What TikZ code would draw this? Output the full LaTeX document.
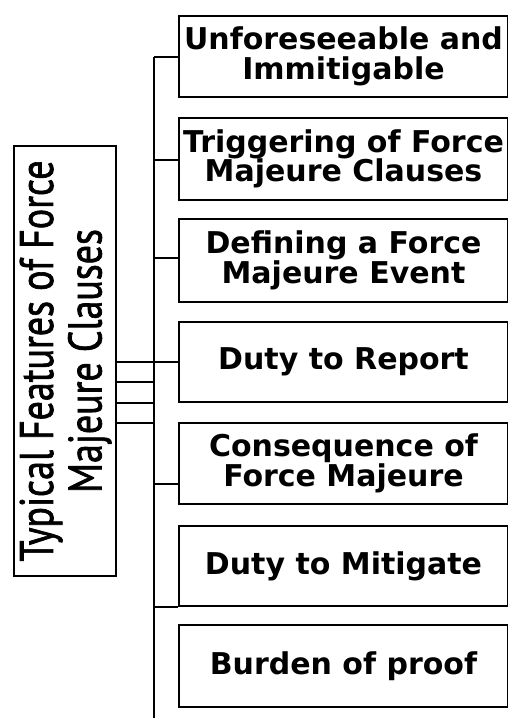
\documentclass[tikz,border=0pt]{standalone}
\usepackage{graphicx}
\usepackage{fontspec}
\newfontfamily\boxfont{DejaVu Sans}
\newfontfamily\titlefont[FakeBold=1.6]{PT Sans}
\newlength\titlewidth
\begin{document}
\begin{tikzpicture}[x=1pt,y=-1pt,
  line width=2pt,
  itembox/.style={draw, line width=2pt, minimum width=329pt, minimum height=81pt,
    inner sep=0pt, align=center,
    font={\boxfont\bfseries\fontsize{30}{29.5}\selectfont}},
  link/.style={line width=2pt}]
\useasboundingbox (0,0) rectangle (507,718);
% main box
\node[draw, line width=2pt, minimum width=102pt, minimum height=430pt, inner sep=0pt] (main) at (65,361) {};
\node[rotate=90, inner sep=0pt] (title) at (67.5,361)
  {\titlefont\fontsize{47}{48.5}\selectfont
   \settowidth{\titlewidth}{Typical Features of Force}%
   \pgfmathsetmacro\sx{401/\titlewidth}%
   \scalebox{\sx}[1]{\begin{tabular}{@{}c@{}}Typical Features of Force\\Majeure Clauses\end{tabular}}};
% item boxes
\node[itembox] (b1) at (343.5,56.5) {Unforeseeable and\\Immitigable};
\node[itembox, minimum height=82pt] (b2) at (343.5,159) {Triggering of Force\\Majeure Clauses};
\node[itembox, minimum height=83pt] (b3) at (343.5,260.5) {Defining a Force\\Majeure Event};
\node[itembox, minimum height=80pt] (b4) at (343.5,362) {Duty to Report};
\node[itembox] (b5) at (343.5,463.5) {Consequence of\\Force Majeure};
\node[itembox, minimum height=80pt] (b6) at (343.5,566) {Duty to Mitigate};
\node[itembox, minimum height=82pt] (b7) at (343.5,666) {Burden of proof};
% trunk
\coordinate (ttop) at (154,57);
\coordinate (tbot) at (154,718);
\draw[link] (ttop) -- (tbot);
% connectors from main box
\coordinate (j1) at (154,362);
\coordinate (j2) at (154,382);
\coordinate (j3) at (154,403);
\coordinate (j4) at (154,423);
\draw[link] (main.east |- j1) -- (b4.west);
\draw[link] (main.east |- j2) -- (j2);
\draw[link] (main.east |- j3) -- (j3);
\draw[link] (main.east |- j4) -- (j4);
% branches to item boxes
\draw[link] (ttop) -- (b1.west |- ttop);
\coordinate (k2) at (154,160);
\draw[link] (k2) -- (b2.west |- k2);
\coordinate (k3) at (154,258);
\draw[link] (k3) -- (b3.west |- k3);
\coordinate (k5) at (154,484);
\draw[link] (k5) -- (b5.west |- k5);
\draw[link] (b6.south west -| ttop) -- (b6.south west);
\end{tikzpicture}
\end{document}
